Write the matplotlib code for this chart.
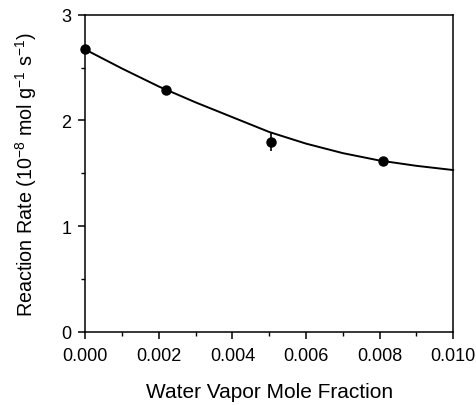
import matplotlib
matplotlib.use("Agg")
import matplotlib.pyplot as plt
from matplotlib.ticker import MultipleLocator, FormatStrFormatter

plt.rcParams["font.family"] = ["Liberation Sans", "DejaVu Sans"]
plt.rcParams["mathtext.fontset"] = "custom"
plt.rcParams["mathtext.rm"] = "Liberation Sans"
plt.rcParams["mathtext.default"] = "regular"

# measured reaction rates
water_frac = [0.0, 0.00219, 0.00504, 0.00808]
rate = [2.68, 2.29, 1.80, 1.62]
rate_err = [0.0, 0.0, 0.09, 0.0]

# fitted model curve
fit_x = [0.000, 0.001, 0.002, 0.003, 0.004, 0.005, 0.006, 0.007, 0.008, 0.009, 0.010]
fit_y = [2.67, 2.49, 2.32, 2.17, 2.03, 1.89, 1.78, 1.69, 1.62, 1.57, 1.53]

fig = plt.figure(figsize=(4.77, 4.06), dpi=100)
ax = fig.add_axes([0.179, 0.1805, 0.771, 0.7808])

ax.plot(fit_x, fit_y, color="black", lw=1.4, clip_on=False, zorder=2)
ax.errorbar(water_frac, rate, yerr=rate_err, fmt="o", color="black",
            ms=6.5, elinewidth=1.2, capsize=0, clip_on=False, zorder=3)

ax.set_xlim(0, 0.010)
ax.set_ylim(0, 3)
ax.xaxis.set_major_locator(MultipleLocator(0.002))
ax.xaxis.set_minor_locator(MultipleLocator(0.001))
ax.yaxis.set_major_locator(MultipleLocator(1))
ax.yaxis.set_minor_locator(MultipleLocator(0.5))
ax.xaxis.set_major_formatter(FormatStrFormatter("%.3f"))

for s in ax.spines.values():
    s.set_linewidth(1.1)

ax.tick_params(which="major", direction="out", length=5, width=1.1,
               labelsize=13, pad=6)
ax.tick_params(which="minor", direction="out", length=3, width=1.0)
ax.tick_params(axis="y", which="major", pad=5)

ax.set_xlabel("Water Vapor Mole Fraction", fontsize=15, labelpad=13)
ax.set_ylabel("Reaction Rate (10$^{-8}$ mol g$^{-1}$ s$^{-1}$)", fontsize=14.2,
              labelpad=16)

fig.savefig("out.png", dpi=100)
